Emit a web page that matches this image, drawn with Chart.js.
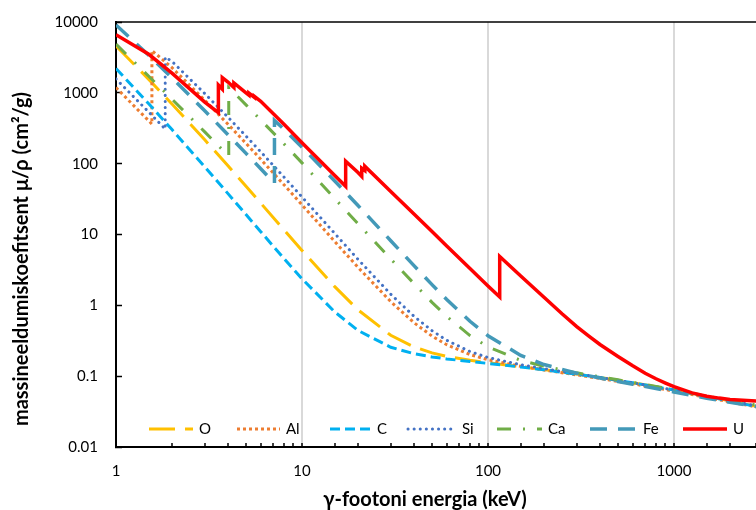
<!DOCTYPE html>
<html>
<head>
<meta charset="utf-8">
<title>Massineeldumiskoefitsent</title>
<script src="https://cdn.jsdelivr.net/npm/chart.js@4.4.1/dist/chart.umd.min.js"></script>
<style>
  html, body { margin: 0; padding: 0; background: #fff; }
  #wrap { position: relative; width: 756px; height: 510px; }
</style>
</head>
<body>
<div id="wrap"><canvas id="myChart"></canvas></div>
<script>
// photon energy (keV) and mass attenuation coefficient (cm2/g)
// absorption edges are listed twice: value below and above the edge
const energyLight = [1, 1.5, 2, 3, 4, 5, 6, 8, 10, 15, 20, 30, 40, 50, 60, 80, 100, 150, 200, 300, 400, 500, 600, 800, 1000, 1250, 1500, 2000, 3000];
const muO = [4590, 1549, 694.9, 217.1, 93.15, 47.9, 27.7, 11.63, 5.952, 1.836, 0.8651, 0.3779, 0.2585, 0.2132, 0.1907, 0.1678, 0.1551, 0.1361, 0.1237, 0.107, 0.09566, 0.08729, 0.0807, 0.07087, 0.06372, 0.05697, 0.05185, 0.04459, 0.03597];
const muC = [2211, 700.2, 302.6, 90.33, 37.78, 19.12, 10.95, 4.576, 2.373, 0.8071, 0.442, 0.2562, 0.2076, 0.1871, 0.1753, 0.161, 0.1514, 0.1347, 0.1229, 0.1066, 0.09546, 0.08715, 0.08058, 0.07076, 0.06361, 0.0569, 0.05179, 0.04442, 0.03562];

const energyAl = [1, 1.5, 1.5596, 1.5596, 2, 3, 4, 5, 6, 8, 10, 15, 20, 30, 40, 50, 60, 80, 100, 150, 200, 300, 400, 500, 600, 800, 1000, 1250, 1500, 2000, 3000];
const muAl = [1185, 402.2, 362.1, 3957, 2263, 788, 360.5, 193.4, 115.3, 50.33, 26.23, 7.955, 3.441, 1.128, 0.5685, 0.3681, 0.2778, 0.2018, 0.1704, 0.1378, 0.1223, 0.1042, 0.09276, 0.08445, 0.07802, 0.06841, 0.06146, 0.05496, 0.05006, 0.04324, 0.03541];

const energySi = [1, 1.5, 1.8389, 1.8389, 2, 3, 4, 5, 6, 8, 10, 15, 20, 30, 40, 50, 60, 80, 100, 150, 200, 300, 400, 500, 600, 800, 1000, 1250, 1500, 2000, 3000];
const muSi = [1570, 535.5, 309.2, 3192, 2777, 978.4, 452.9, 245, 147, 64.68, 33.89, 10.34, 4.464, 1.436, 0.7012, 0.4385, 0.3207, 0.2228, 0.1835, 0.1448, 0.1275, 0.1082, 0.09614, 0.08748, 0.08077, 0.07082, 0.06361, 0.05688, 0.05183, 0.0448, 0.03678];

const energyCa = [1, 1.5, 2, 3, 4, 4.0381, 4.0381, 5, 6, 8, 10, 15, 20, 30, 40, 50, 60, 80, 100, 150, 200, 300, 400, 500, 600, 800, 1000, 1250, 1500, 2000, 3000];
const muCa = [4867, 1714, 815.6, 280.8, 131.1, 128, 1185, 677.4, 413.1, 190.2, 102.7, 32.12, 14.23, 4.52, 2.03, 1.102, 0.6979, 0.3745, 0.2599, 0.1672, 0.1381, 0.1114, 0.09798, 0.08873, 0.08172, 0.0715, 0.06422, 0.05736, 0.05228, 0.04547, 0.03807];

const energyFe = [1, 1.5, 2, 3, 4, 5, 6, 7.112, 7.112, 8, 10, 15, 20, 30, 40, 50, 60, 80, 100, 150, 200, 300, 400, 500, 600, 800, 1000, 1250, 1500, 2000, 3000];
const muFe = [9085, 3399, 1626, 557.6, 256.7, 139.8, 84.84, 53.19, 407.6, 305.6, 170.6, 57.08, 25.68, 8.176, 3.629, 1.958, 1.205, 0.5952, 0.3717, 0.1964, 0.146, 0.1099, 0.094, 0.08414, 0.07704, 0.06699, 0.05995, 0.0535, 0.04883, 0.04265, 0.03621];

const energyU = [1, 1.5, 2, 3, 3.552, 3.552, 3.728, 3.728, 4, 4.303, 4.303, 5, 5.182, 5.182, 5.548, 5.548, 6, 8, 10, 15, 17.17, 17.17, 20, 20.95, 20.95, 21.76, 21.76, 30, 40, 50, 60, 80, 100, 115.6, 115.6, 150, 200, 250, 300, 350, 400, 500, 600, 700, 800, 900, 1000, 1250, 1500, 1750, 2000, 3000];
const muU = [6626, 3500, 1900, 740, 525, 1290, 1130, 1640, 1420, 1190, 1380, 1000, 930, 990, 860, 890, 760, 360, 198, 68, 48, 108, 75, 66, 86, 80, 92, 40.5, 19.5, 11.0, 6.9, 3.3, 1.88, 1.31, 4.9, 2.6, 1.3, 0.76, 0.5, 0.365, 0.28, 0.19, 0.14, 0.11, 0.092, 0.08, 0.071, 0.058, 0.052, 0.049, 0.047, 0.044];

const xTickLabels = ['1', '10', '100', '1000'];
const yTickLabels = ['0.01', '0.1', '1', '10', '100', '1000', '10000'];

const FONT = 'Lato, "Noto Sans", sans-serif';
Chart.defaults.font.family = FONT;
Chart.defaults.color = '#000';

const toPoints = (xs, ys) => xs.map((x, i) => ({ x, y: ys[i] }));
const isDecade = (v) => Math.abs(Math.log10(v) - Math.round(Math.log10(v))) < 1e-9;

const series = [
  { label: 'O', data: toPoints(energyLight, muO), borderColor: '#FFC000', borderWidth: 3, borderDash: [26, 10] },
  { label: 'Al', data: toPoints(energyAl, muAl), borderColor: '#ED7D31', borderWidth: 3, borderDash: [3, 3] },
  { label: 'C', data: toPoints(energyLight, muC), borderColor: '#00B0F0', borderWidth: 3, borderDash: [10, 5] },
  { label: 'Si', data: toPoints(energySi, muSi), borderColor: '#4472C4', borderWidth: 3, borderDash: [0.1, 6], borderCapStyle: 'round' },
  { label: 'Ca', data: toPoints(energyCa, muCa), borderColor: '#70AD47', borderWidth: 3, borderDash: [14, 12, 2, 12] },
  { label: 'Fe', data: toPoints(energyFe, muFe), borderColor: '#4399B8', borderWidth: 3.5, borderDash: [17, 11] },
  { label: 'U', data: toPoints(energyU, muU), borderColor: '#FF0000', borderWidth: 3.5, borderDash: [] },
];
series.forEach((ds, i) => {
  ds.pointRadius = 0;
  ds.fill = false;
  ds.tension = 0;
  ds.order = series.length - i; // later series on top
});

// legend row inside the plot, top border, axis titles
const legendX = [149, 237, 330, 408, 497, 590, 683];
const legendTextX = [199, 286, 377, 462, 548, 643, 733];

const decorations = {
  id: 'decorations',
  afterDraw(chart) {
    const { ctx, chartArea: a } = chart;
    ctx.save();

    ctx.strokeStyle = '#000';
    ctx.lineWidth = 1.5;
    ctx.beginPath();
    ctx.moveTo(a.left, a.top);
    ctx.lineTo(a.right, a.top);
    ctx.stroke();

    const ly = 429;
    ctx.font = '15px ' + FONT;
    ctx.textBaseline = 'middle';
    ctx.textAlign = 'left';
    chart.data.datasets.forEach((ds, i) => {
      ctx.strokeStyle = ds.borderColor;
      ctx.lineWidth = ds.borderWidth;
      ctx.lineCap = ds.borderCapStyle || 'butt';
      ctx.setLineDash(ds.borderDash || []);
      ctx.beginPath();
      ctx.moveTo(legendX[i], ly);
      ctx.lineTo(legendTextX[i] - 6, ly);
      ctx.stroke();
      ctx.fillStyle = '#000';
      ctx.fillText(ds.label, legendTextX[i], ly);
    });
    ctx.setLineDash([]);

    ctx.font = 'bold 20px ' + FONT;
    ctx.textAlign = 'center';
    ctx.fillStyle = '#000';
    ctx.fillText('γ-footoni energia (keV)', 425, 500);

    ctx.translate(22, 259);
    ctx.rotate(-Math.PI / 2);
    ctx.fillText('massineeldumiskoefitsent μ/ρ (cm²/g)', 0, 0);
    ctx.restore();
  }
};

const config = {
  type: 'line',
  data: { datasets: series },
  options: {
    responsive: true,
    maintainAspectRatio: false,
    animation: false,
    layout: { padding: { top: 22, right: 0, bottom: 0, left: 0 } },
    plugins: {
      legend: { display: false },
      tooltip: { enabled: false },
    },
    scales: {
      x: {
        type: 'logarithmic',
        min: 1,
        max: 2760,
        afterFit: (scale) => {
          scale.height = 63;
          scale.paddingLeft = 0;
          scale.paddingRight = 0;
        },
        border: { color: '#000', width: 2 },
        grid: {
          color: (c) => (c.tick && c.tick.value > 1 && isDecade(c.tick.value)) ? '#D9D9D9' : 'rgba(0,0,0,0)',
          lineWidth: 2,
          tickColor: '#000',
          tickLength: -4,
          tickWidth: 1.5,
        },
        ticks: {
          autoSkip: false,
          maxRotation: 0,
          padding: 19,
          font: { size: 15 },
          callback: (v) => isDecade(v) ? xTickLabels[Math.round(Math.log10(v))] : '',
        },
      },
      y: {
        type: 'logarithmic',
        min: 0.01,
        max: 10000,
        afterFit: (scale) => {
          scale.width = 116;
          scale.paddingTop = 0;
          scale.paddingBottom = 0;
        },
        border: { color: '#000', width: 2 },
        grid: {
          color: 'rgba(0,0,0,0)',
          tickColor: (c) => isDecade(c.tick.value) ? '#000' : 'rgba(0,0,0,0)',
          tickLength: -6,
          tickWidth: 1.5,
        },
        ticks: {
          autoSkip: false,
          padding: 24,
          font: { size: 15 },
          callback: (v) => isDecade(v) ? yTickLabels[Math.round(Math.log10(v)) + 2] : '',
        },
      },
    },
  },
  plugins: [decorations],
};

const ctx = document.getElementById('myChart');
const chart = new Chart(ctx, config);
</script>
</body>
</html>
